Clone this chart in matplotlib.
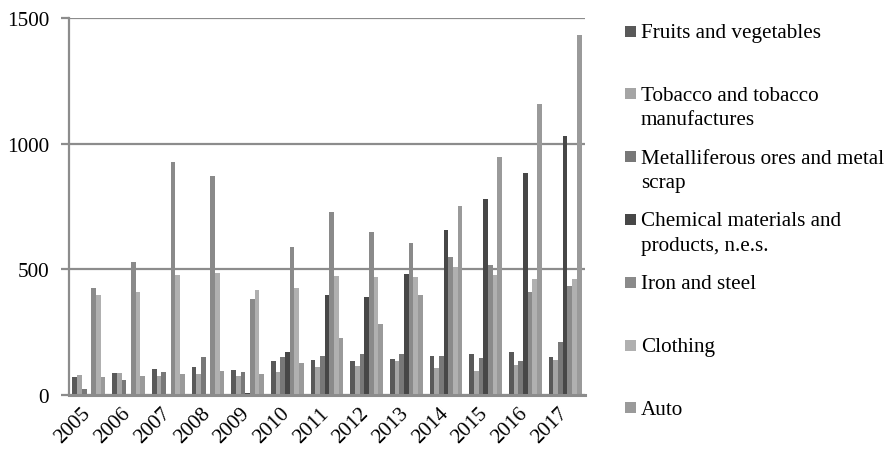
import matplotlib.pyplot as plt
import matplotlib.patches as patches
import matplotlib.transforms as transforms
import numpy as np

years = ['2005', '2006', '2007', '2008', '2009', '2010', '2011',
         '2012', '2013', '2014', '2015', '2016', '2017']

series_names = ['Fruits and vegetables',
                'Tobacco and tobacco\nmanufactures',
                'Metalliferous ores and metal\nscrap',
                'Chemical materials and\nproducts, n.e.s.',
                'Iron and steel',
                'Clothing',
                'Auto']

fruits = [70, 86, 103, 111, 99, 135, 139, 135, 145, 157, 163, 170, 150]
tobacco = [80, 88, 77, 82, 77, 92, 110, 114, 135, 107, 94, 118, 138]
metal = [25, 60, 90, 151, 90, 152, 157, 162, 162, 154, 147, 137, 210]
chemical = [1, 1, 2, 5, 7, 171, 398, 389, 483, 655, 780, 883, 1032]
iron = [426, 530, 927, 871, 382, 590, 727, 649, 605, 551, 517, 411, 434]
clothing = [399, 411, 477, 485, 419, 426, 472, 468, 471, 508, 476, 463, 463]
auto = [70, 77, 84, 95, 84, 126, 226, 281, 398, 751, 948, 1157, 1432]

colors = ['#595959', '#a5a5a5', '#787878', '#474747', '#8a8a8a', '#b0b0b0', '#9a9a9a']

plt.rcParams['font.family'] = ['Liberation Serif', 'DejaVu Serif']
fs = 15.2

fig = plt.figure(figsize=(8.88, 4.52), dpi=100)
ax = fig.add_axes([69 / 888, 1 - 396 / 452, (585 - 69) / 888, (396 - 19) / 452])

data = [fruits, tobacco, metal, chemical, iron, clothing, auto]
x = np.arange(len(years))
w = 0.118
for i, vals in enumerate(data):
    ax.bar(x + (i - 3) * w, vals, width=w, color=colors[i], linewidth=0, zorder=3)

grid_c = '#8c8c8c'
ax.set_xlim(-0.5, len(years) - 0.5)
ax.set_ylim(0, 1500)
ax.set_yticks([0, 500, 1000, 1500])
ax.yaxis.grid(True, color=grid_c, linewidth=1.6, zorder=0)
ax.set_axisbelow(True)
for s in ['top', 'right']:
    ax.spines[s].set_visible(False)
ax.spines['left'].set_color(grid_c)
ax.spines['left'].set_linewidth(1.6)
ax.spines['bottom'].set_color(grid_c)
ax.spines['bottom'].set_linewidth(2.2)
ax.spines['bottom'].set_zorder(4)
ax.tick_params(axis='y', length=6, width=1.6, color=grid_c, pad=8.5, labelsize=fs)
ax.tick_params(axis='x', length=0, pad=6, labelsize=fs)
ax.set_xticks(x)
ax.set_xticklabels(years, rotation=45, ha='right', va='top')
# nudge year labels a little right, as in the original
shift = transforms.ScaledTranslation(6 / 100, 0, fig.dpi_scale_trans)
for lab in ax.get_xticklabels():
    lab.set_transform(lab.get_transform() + shift)

# legend drawn by hand
sq = 11
y0 = 32
step = 62.8
for i, name in enumerate(series_names):
    cy = y0 + i * step
    fig.add_artist(patches.Rectangle((625 / 888, 1 - (cy + sq / 2) / 452), sq / 888, sq / 452,
                                     transform=fig.transFigure, facecolor=colors[i],
                                     edgecolor='none'))
    fig.text(641 / 888, 1 - (cy - 8) / 452, name, fontsize=fs, va='top', ha='left',
             linespacing=1.4)

fig.savefig('out.png', dpi=100)
